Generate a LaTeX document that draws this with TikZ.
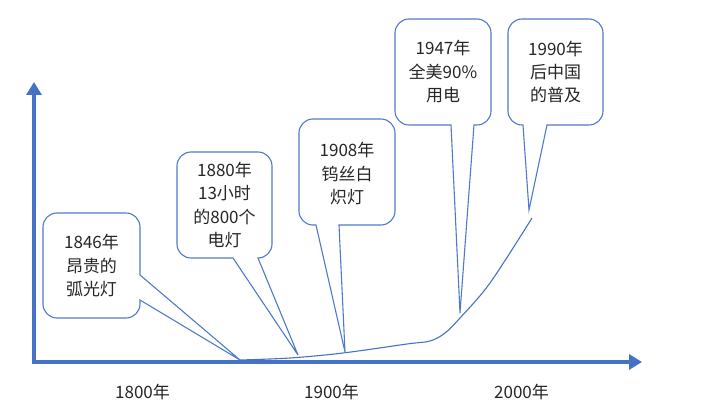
\documentclass[tikz,border=0pt]{standalone}
\usepackage{fontspec}
\setmainfont{Noto Sans CJK SC}
\usetikzlibrary{arrows.meta}
\definecolor{axisblue}{HTML}{4472C4}
\definecolor{callblue}{HTML}{4F7ACB}
\definecolor{txt}{HTML}{262626}
\tikzset{
  axisline/.style={draw=axisblue, line width=4.5pt, line join=miter,
    {Triangle[width=15pt,length=13pt]}-{Triangle[width=15pt,length=13pt]}},
  calloutbox/.style={draw=callblue, line width=1.1pt, fill=white, line join=miter},
  calltext/.style={align=center, text=txt, font=\fontsize{17}{23.5}\selectfont, inner sep=0pt},
  yearlabel/.style={text=txt, font=\fontsize{17}{20}\selectfont, inner sep=0pt},
  trend/.style={draw=axisblue, line width=1.1pt}
}
% callout with pointer on the bottom edge: L R T B a b tipx tipy
\newcommand\mycalloutB[8]{%
  \draw[calloutbox] (#5,#4) -- ({#1+14},#4) arc[start angle=270,end angle=180,radius=14]
    -- (#1,{#3-14}) arc[start angle=180,end angle=90,radius=14]
    -- ({#2-14},#3) arc[start angle=90,end angle=0,radius=14]
    -- (#2,{#4+14}) arc[start angle=0,end angle=-90,radius=14]
    -- (#6,#4) -- (#7,#8) -- cycle;}
\begin{document}
\begin{tikzpicture}[x=1pt,y=1pt]
\useasboundingbox (0,0) rectangle (716,410);
% axes
\coordinate (ytip) at (34,328);
\coordinate (O) at (34,48);
\coordinate (xtip) at (642,48);
\draw[axisline] (ytip) -- (O) -- (xtip);
% trend curve
\draw[trend] plot[smooth, tension=0.55] coordinates {(240,50) (290,52) (343,57) (407,66) (430,69) (445,77) (460,92) (490,127) (532,192)};
% callout 1846 (pointer on right edge)
\draw[calloutbox] (140,135) -- (140,183) arc[start angle=0,end angle=90,radius=14]
  -- (57,197) arc[start angle=90,end angle=180,radius=14]
  -- (43,106) arc[start angle=180,end angle=270,radius=14]
  -- (126,92) arc[start angle=270,end angle=360,radius=14]
  -- (140,110) -- (240,50) -- cycle;
\node[calltext] (c1) at (91.5,144) {1846年\\昂贵的\\弧光灯};
% callout 1880
\mycalloutB{177}{272}{258}{152}{233}{258}{298}{55}
\node[calltext] (c2) at (224.5,205) {1880年\\13小时\\的800个\\电灯};
% callout 1908
\mycalloutB{299}{395}{291}{185}{316}{339}{345}{58}
\node[calltext] (c3) at (347,236) {1908年\\钨丝白\\炽灯};
% callout 1947
\mycalloutB{395}{491}{391}{285}{451}{474}{460}{97}
\node[calltext] (c4) at (443,338) {1947年\\全美90\%\\用电};
% callout 1990
\mycalloutB{508}{603}{391}{285}{523}{547}{529}{200}
\node[calltext] (c5) at (555.5,338) {1990年\\后中国\\的普及};
% year labels
\node[yearlabel] (y1800) at (142.5,18) {1800年};
\node[yearlabel] (y1900) at (331.5,18) {1900年};
\node[yearlabel] (y2000) at (521.5,18) {2000年};
\end{tikzpicture}
\end{document}
